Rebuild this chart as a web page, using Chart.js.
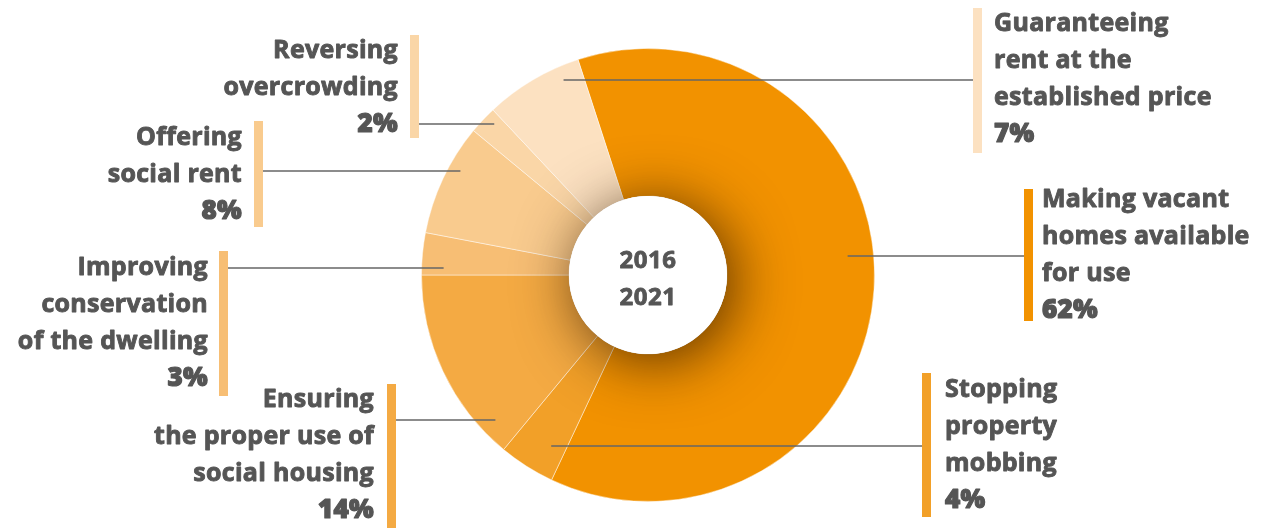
<!DOCTYPE html>
<html>
<head>
<meta charset="utf-8">
<script src="https://cdn.jsdelivr.net/npm/chart.js@4.4.1/dist/chart.umd.min.js"></script>
<style>
  html, body { margin: 0; padding: 0; background: #ffffff; }
  #wrap { width: 1266px; height: 528px; position: relative; }
</style>
</head>
<body>
<div id="wrap"><canvas id="chart"></canvas></div>
<script>
// Measures, in drawing order (clockwise from the top-left edge of the large slice)
const categories = [
  'Making vacant homes available for use',
  'Stopping property mobbing',
  'Ensuring the proper use of social housing',
  'Improving conservation of the dwelling',
  'Offering social rent',
  'Reversing overcrowding',
  'Guaranteeing rent at the established price'
];
const shares = [62, 4, 14, 3, 8, 2, 7];

// Wrapped label text for each slice (the share line is appended when drawn)
const labelLines = [
  ['Making vacant', 'homes available', 'for use'],
  ['Stopping', 'property', 'mobbing'],
  ['Ensuring', 'the proper use of', 'social housing'],
  ['Improving', 'conservation', 'of the dwelling'],
  ['Offering', 'social rent'],
  ['Reversing', 'overcrowding'],
  ['Guaranteeing', 'rent at the', 'established price']
];

const periodLines = ['2016', '2021'];

const sliceColors = ['#F29200', '#F2A028', '#F4AA43', '#F7BE74', '#F9CB8E', '#FAD6A7', '#FCE1C1'];

// Callout placement: text anchor, first baseline, leader height, side bar, leader depth into the ring
const calloutLayout = [
  { align: 'left',  textX: 1042, baseY: 207, leaderY: 256, barX: 1024, barTop: 189, barBottom: 321, inset: 26 },
  { align: 'left',  textX: 945,  baseY: 397, leaderY: 446, barX: 922,  barTop: 373, barBottom: 517, inset: 30 },
  { align: 'right', textX: 374,  baseY: 407, leaderY: 420, barX: 387,  barTop: 384, barBottom: 528, inset: 16 },
  { align: 'right', textX: 208,  baseY: 275, leaderY: 268, barX: 219,  barTop: 251, barBottom: 396, inset: 22 },
  { align: 'right', textX: 242,  baseY: 145, leaderY: 171, barX: 254,  barTop: 121, barBottom: 227, inset: 12 },
  { align: 'right', textX: 398,  baseY: 58,  leaderY: 124, barX: 410,  barTop: 35,  barBottom: 138, inset: 11 },
  { align: 'left',  textX: 994,  baseY: 31,  leaderY: 80,  barX: 973,  barTop: 8,   barBottom: 153, inset: 14 }
];

const LINE_STEP = 37;
const BAR_W = 9;
const TEXT_COLOR = '#555555';
const TEXT_FONT = '700 25px "Open Sans", sans-serif';
const SHARE_FONT = '800 26px "Open Sans", sans-serif';
const HUB_FONT = '700 24px "Open Sans", sans-serif';

// Heavy text: fill plus a thin outline in the same colour
function heavyText(ctx, text, x, y, weight) {
  ctx.lineWidth = weight;
  ctx.lineJoin = 'round';
  ctx.strokeText(text, x, y);
  ctx.fillText(text, x, y);
}

const calloutPlugin = {
  id: 'callouts',
  afterDatasetsDraw(chart) {
    const ctx = chart.ctx;
    const arcs = chart.getDatasetMeta(0).data;
    if (!arcs.length) return;
    const cx = arcs[0].x, cy = arcs[0].y;
    const R = arcs[0].outerRadius, r = arcs[0].innerRadius;

    // White hub casting a soft shadow onto the ring
    ctx.save();
    ctx.beginPath();
    ctx.arc(cx, cy, R, 0, Math.PI * 2);
    ctx.clip();
    ctx.shadowColor = 'rgba(50, 25, 0, 0.8)';
    ctx.shadowBlur = 60;
    ctx.shadowOffsetX = 7;
    ctx.shadowOffsetY = 7;
    ctx.fillStyle = '#ffffff';
    ctx.beginPath();
    ctx.arc(cx, cy, r, 0, Math.PI * 2);
    ctx.fill();
    ctx.restore();
    ctx.save();
    ctx.fillStyle = '#ffffff';
    ctx.beginPath();
    ctx.arc(cx, cy, r, 0, Math.PI * 2);
    ctx.fill();
    ctx.restore();

    // Period in the hub
    ctx.save();
    ctx.fillStyle = TEXT_COLOR;
    ctx.strokeStyle = TEXT_COLOR;
    ctx.font = HUB_FONT;
    ctx.letterSpacing = '0.5px';
    ctx.textAlign = 'center';
    ctx.textBaseline = 'middle';
    periodLines.forEach((t, k) => heavyText(ctx, t, cx, cy - 14 + k * 37, 0.8));
    ctx.restore();

    // Leaders, side bars and labels
    arcs.forEach((arc, i) => {
      const L = calloutLayout[i];
      const mid = (arc.startAngle + arc.endAngle) / 2;
      const dir = Math.cos(mid) >= 0 ? 1 : -1;
      const depth = R - L.inset;
      const dy = L.leaderY - cy;
      const dx = Math.sqrt(Math.max(depth * depth - dy * dy, 0));
      const sx = cx + dir * dx;
      const ex = L.align === 'left' ? L.barX : L.barX + BAR_W;

      ctx.save();
      ctx.strokeStyle = '#666666';
      ctx.lineWidth = 1.5;
      ctx.beginPath();
      ctx.moveTo(sx, L.leaderY);
      ctx.lineTo(ex, L.leaderY);
      ctx.stroke();

      ctx.fillStyle = sliceColors[i];
      ctx.fillRect(L.barX, L.barTop, BAR_W, L.barBottom - L.barTop);

      ctx.fillStyle = TEXT_COLOR;
      ctx.strokeStyle = TEXT_COLOR;
      ctx.textAlign = L.align;
      ctx.textBaseline = 'alphabetic';
      ctx.letterSpacing = '0.3px';
      const lines = labelLines[i];
      ctx.font = TEXT_FONT;
      lines.forEach((t, k) => heavyText(ctx, t, L.textX, L.baseY + k * LINE_STEP, 0.9));
      ctx.font = SHARE_FONT;
      heavyText(ctx, shares[i] + '%', L.textX, L.baseY + lines.length * LINE_STEP, 1.2);
      ctx.restore();
    });
  }
};

new Chart(document.getElementById('chart'), {
  type: 'doughnut',
  data: {
    labels: categories,
    datasets: [{
      data: shares,
      backgroundColor: sliceColors,
      borderColor: 'rgba(255,255,255,0.45)',
      borderWidth: 1,
      hoverOffset: 0
    }]
  },
  options: {
    responsive: true,
    maintainAspectRatio: false,
    animation: false,
    rotation: -18,
    cutout: 79,
    layout: { padding: { top: 48, bottom: 26, left: 421, right: 391 } },
    plugins: {
      legend: { display: false },
      tooltip: { enabled: false }
    },
    events: []
  },
  plugins: [calloutPlugin]
});
</script>
</body>
</html>
